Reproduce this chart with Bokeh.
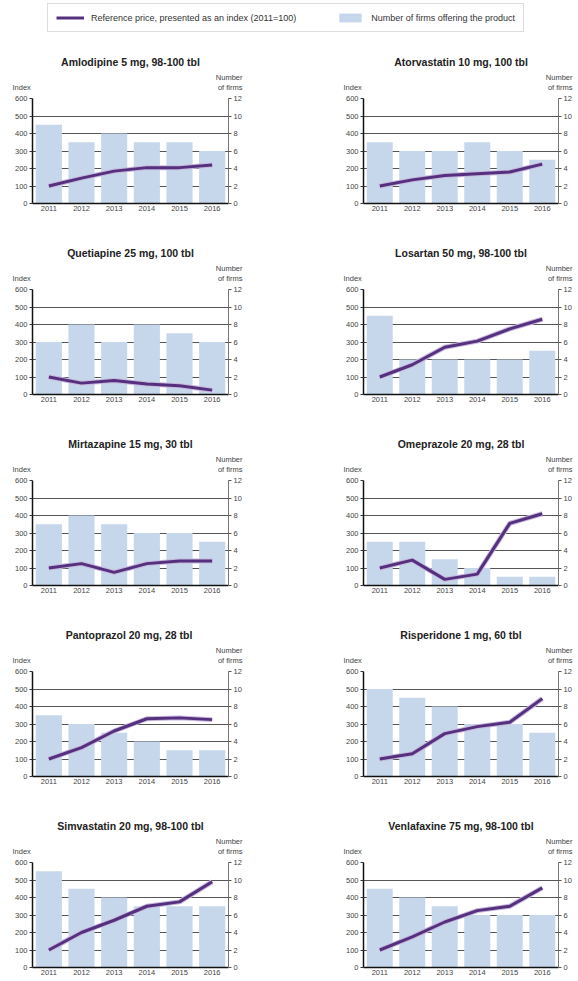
from bokeh.plotting import figure
from bokeh.models import Range1d, LinearAxis, FixedTicker, Legend, LegendItem
from bokeh.layouts import column, row
from bokeh.embed import file_html
from bokeh.resources import INLINE
from bokeh.core.properties import value

# ---------------- data ----------------
years = ["2011", "2012", "2013", "2014", "2015", "2016"]

index_ticks = [0, 100, 200, 300, 400, 500, 600]
firms_ticks = [0, 2, 4, 6, 8, 10, 12]

legend_line_label = "Reference price, presented as an index (2011=100)"
legend_bar_label = "Number of firms offering the product"
left_axis_title = "Index"
right_axis_title = ["Number", "of firms"]

amlodipine_title = "Amlodipine 5 mg, 98-100 tbl"
amlodipine_index = [100, 145, 185, 205, 205, 220]
amlodipine_firms = [9, 7, 8, 7, 7, 6]

atorvastatin_title = "Atorvastatin 10 mg, 100 tbl"
atorvastatin_index = [100, 135, 160, 170, 180, 225]
atorvastatin_firms = [7, 6, 6, 7, 6, 5]

quetiapine_title = "Quetiapine 25 mg, 100 tbl"
quetiapine_index = [100, 65, 80, 60, 50, 25]
quetiapine_firms = [6, 8, 6, 8, 7, 6]

losartan_title = "Losartan 50 mg, 98-100 tbl"
losartan_index = [100, 170, 270, 305, 375, 430]
losartan_firms = [9, 4, 4, 4, 4, 5]

mirtazapine_title = "Mirtazapine 15 mg, 30 tbl"
mirtazapine_index = [100, 125, 75, 125, 140, 140]
mirtazapine_firms = [7, 8, 7, 6, 6, 5]

omeprazole_title = "Omeprazole 20 mg, 28 tbl"
omeprazole_index = [100, 145, 35, 65, 355, 410]
omeprazole_firms = [5, 5, 3, 2, 1, 1]

pantoprazol_title = "Pantoprazol  20 mg, 28 tbl"
pantoprazol_index = [100, 165, 260, 330, 335, 325]
pantoprazol_firms = [7, 6, 5, 4, 3, 3]

risperidone_title = "Risperidone 1 mg, 60 tbl"
risperidone_index = [100, 130, 245, 285, 310, 445]
risperidone_firms = [10, 9, 8, 6, 6, 5]

simvastatin_title = "Simvastatin 20 mg, 98-100 tbl"
simvastatin_index = [100, 200, 270, 350, 375, 490]
simvastatin_firms = [11, 9, 8, 7, 7, 7]

venlafaxine_title = "Venlafaxine 75 mg, 98-100 tbl"
venlafaxine_index = [100, 175, 260, 325, 350, 455]
venlafaxine_firms = [9, 8, 7, 6, 6, 6]

# positions of the year categories on a numeric axis
x_pos = list(range(len(years)))

# ---------------- style / layout ----------------
FONT = "Liberation Sans"
BAR = "#c6d7ec"
LINE = "#55307f"
HALO = "#c7b8dc"
GRID = "#555555"
TOTAL_W = 577
HEAD_H = 53      # header strip (titles + axis titles) above each row
PLOT_TOP = 5     # border above each plot frame
FRAME_H = 105
LEFT_W, LEFT_BL, LEFT_BR = 298, 32, 70
RIGHT_W, RIGHT_BL, RIGHT_BR = 279, 65, 19


def frame_bounds(side):
    if side == "left":
        return LEFT_BL, LEFT_W - LEFT_BR
    return LEFT_W + RIGHT_BL, LEFT_W + RIGHT_W - RIGHT_BR


def make_header(title_left, title_right):
    """Full-width strip above a row holding both titles and axis titles."""
    h = figure(width=TOTAL_W, height=HEAD_H, x_range=Range1d(0, TOTAL_W),
               y_range=Range1d(0, HEAD_H), x_axis_type=None, y_axis_type=None,
               output_backend="svg", toolbar_location=None, title=None,
               min_border=0, outline_line_color=None)
    h.xgrid.visible = False
    h.ygrid.visible = False
    base = -PLOT_TOP  # y of the plot frame tops in header pixel units
    for side, title in (("left", title_left), ("right", title_right)):
        fl, fr = frame_bounds(side)
        h.text(x=[(fl + fr) / 2], y=[base + 37], text=[title],
               text_align="center", text_baseline="middle",
               text_font=value(FONT), text_font_style="bold",
               text_font_size="10.5px", text_color="#222222")
        h.text(x=[fl - 20], y=[base + 11], text=[left_axis_title],
               text_align="left", text_baseline="middle",
               text_font=value(FONT), text_font_size="7.5px",
               text_color="#444444")
        h.text(x=[fr + 14, fr + 14], y=[base + 21, base + 11],
               text=right_axis_title,
               text_align="right", text_baseline="middle",
               text_font=value(FONT), text_font_size="7.5px",
               text_color="#444444")
    return h


def make_panel(idx, firms, side, last):
    if side == "left":
        width, bl, br = LEFT_W, LEFT_BL, LEFT_BR
    else:
        width, bl, br = RIGHT_W, RIGHT_BL, RIGHT_BR
    bb = 11 if last else 28
    height = PLOT_TOP + FRAME_H + bb
    p = figure(width=width, height=height, x_range=Range1d(-0.5, 5.5),
               y_range=Range1d(0, 600), output_backend="svg",
               toolbar_location=None, title=None,
               min_border_left=bl, min_border_right=br,
               min_border_top=PLOT_TOP, min_border_bottom=bb,
               outline_line_color=None)
    p.extra_y_ranges = {"firms": Range1d(0, 12)}

    p.vbar(x=x_pos, top=firms, width=0.8, y_range_name="firms",
           fill_color=BAR, line_color=None)
    p.line(x_pos, idx, line_color=HALO, line_width=5)
    p.line(x_pos, idx, line_color=LINE, line_width=3)

    p.xgrid.visible = False
    p.ygrid.ticker = FixedTicker(ticks=index_ticks[1:])
    p.ygrid.grid_line_color = GRID
    p.ygrid.grid_line_width = 1

    ya = p.yaxis[0]
    ya.ticker = FixedTicker(ticks=index_ticks)
    ya.axis_line_color = "#111111"
    ya.axis_line_width = 1.5
    ya.major_tick_out = 3
    ya.major_tick_in = 0
    ya.minor_tick_out = 0
    ya.minor_tick_in = 0
    ya.major_tick_line_color = "#333333"
    ya.major_label_standoff = 2
    ya.major_label_text_font = FONT
    ya.major_label_text_font_size = "7.5px"
    ya.major_label_text_color = "#444444"

    ra = LinearAxis(y_range_name="firms", ticker=FixedTicker(ticks=firms_ticks))
    ra.axis_line_color = "#777777"
    ra.axis_line_width = 1
    ra.major_tick_out = 3
    ra.major_tick_in = 0
    ra.minor_tick_out = 0
    ra.minor_tick_in = 0
    ra.major_tick_line_color = "#555555"
    ra.major_label_standoff = 2
    ra.major_label_text_font = FONT
    ra.major_label_text_font_size = "7.5px"
    ra.major_label_text_color = "#444444"
    p.add_layout(ra, "right")

    xa = p.xaxis[0]
    xa.ticker = FixedTicker(ticks=x_pos)
    xa.major_label_overrides = {i: y for i, y in zip(x_pos, years)}
    xa.axis_line_color = "#111111"
    xa.axis_line_width = 1.5
    xa.major_tick_out = 0
    xa.major_tick_in = 0
    xa.minor_tick_out = 0
    xa.minor_tick_in = 0
    xa.major_label_standoff = 2
    xa.major_label_text_font = FONT
    xa.major_label_text_font_size = "7.5px"
    xa.major_label_text_color = "#444444"
    return p


# ---------------- legend strip ----------------
lg = figure(width=TOTAL_W, height=40, x_range=Range1d(0, 1), y_range=Range1d(0, 1),
            x_axis_type=None, y_axis_type=None, output_backend="svg",
            toolbar_location=None, title=None, min_border=0,
            outline_line_color=None)
lg.xgrid.visible = False
lg.ygrid.visible = False
# legend-only renderers (kept outside the visible range)
r_line = lg.line(x=[5, 6], y=[5, 5], line_color=LINE, line_width=3)
r_bar = lg.vbar(x=[5], top=[5], bottom=4, width=1, fill_color=BAR, line_color=None)
legend = Legend(items=[LegendItem(label=legend_line_label, renderers=[r_line]),
                       LegendItem(label=legend_bar_label, renderers=[r_bar])],
                location=(47, 8), orientation="horizontal",
                glyph_width=28, glyph_height=11, label_height=10,
                label_standoff=7, spacing=40, padding=8, margin=0,
                label_text_font=FONT, label_text_font_size="9px",
                label_text_color="#333333",
                border_line_color="#bbbbbb", border_line_width=1,
                background_fill_color="white")
lg.add_layout(legend)

panels = [
    (amlodipine_title, amlodipine_index, amlodipine_firms),
    (atorvastatin_title, atorvastatin_index, atorvastatin_firms),
    (quetiapine_title, quetiapine_index, quetiapine_firms),
    (losartan_title, losartan_index, losartan_firms),
    (mirtazapine_title, mirtazapine_index, mirtazapine_firms),
    (omeprazole_title, omeprazole_index, omeprazole_firms),
    (pantoprazol_title, pantoprazol_index, pantoprazol_firms),
    (risperidone_title, risperidone_index, risperidone_firms),
    (simvastatin_title, simvastatin_index, simvastatin_firms),
    (venlafaxine_title, venlafaxine_index, venlafaxine_firms),
]

items = [lg]
for i in range(0, len(panels), 2):
    last = (i == len(panels) - 2)
    lt, li, lf = panels[i]
    rt, ri, rf = panels[i + 1]
    items.append(make_header(lt, rt))
    items.append(row(make_panel(li, lf, "left", last),
                     make_panel(ri, rf, "right", last)))

layout = column(*items)

open("out.html", "w").write(file_html(layout, INLINE))
